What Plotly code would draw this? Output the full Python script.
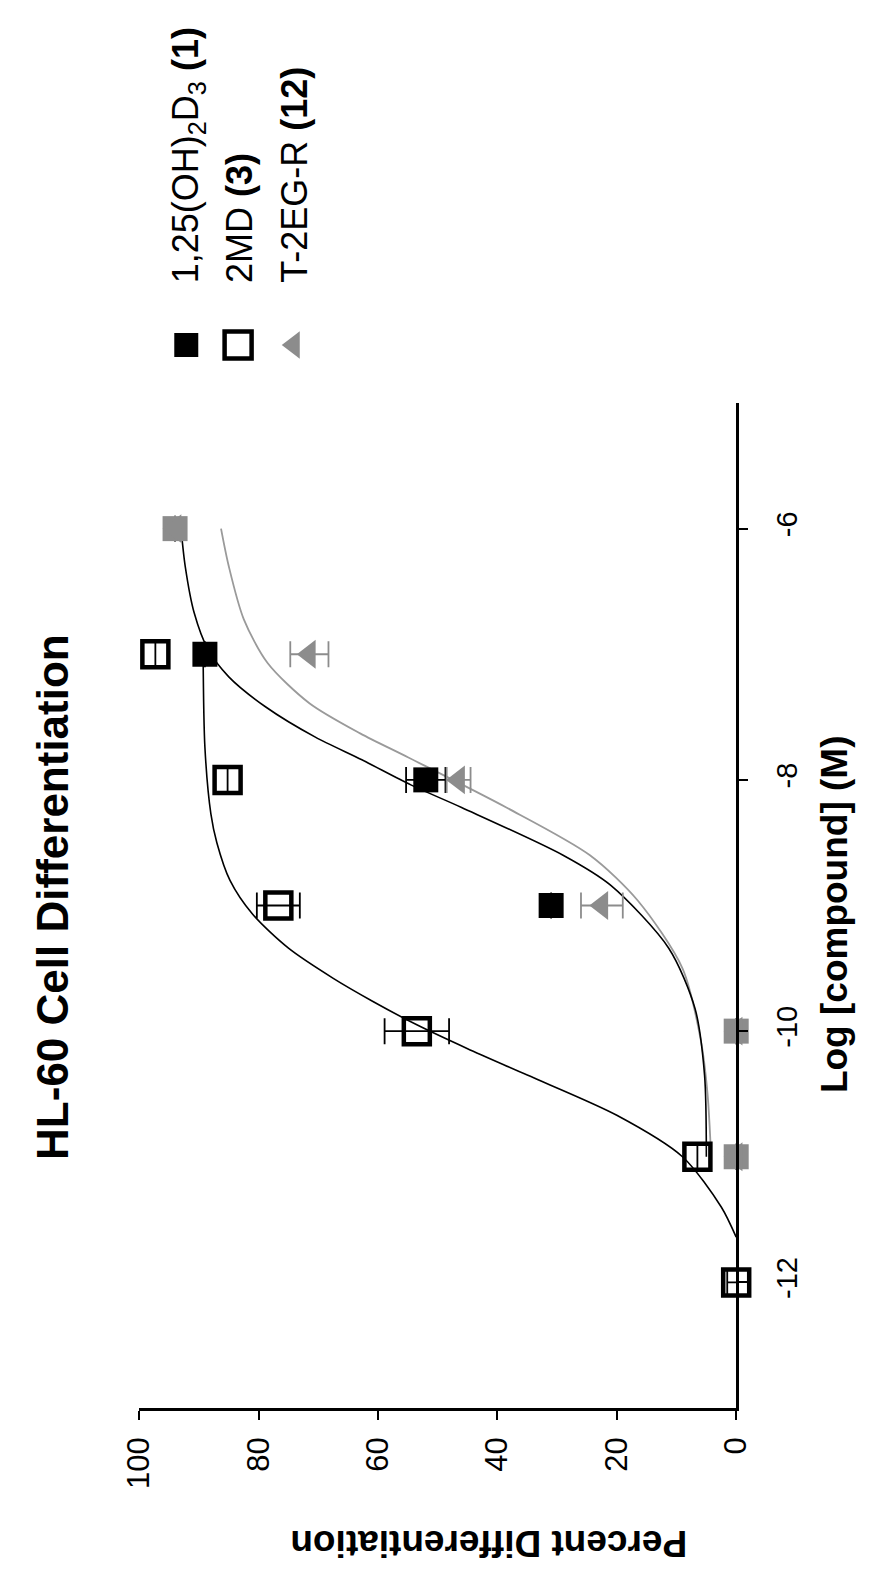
import plotly.graph_objects as go

W, H = 869, 1570

# ---------------- data ----------------
series_names = ["1,25(OH)<sub>2</sub>D<sub>3</sub> <b>(1)</b>", "2MD <b>(3)</b>", "T-2EG-R <b>(12)</b>"]

d3_log = [-11, -10, -9, -8, -7, -6]
d3_pct = [0, 0, 31, 52, 89, 94]
d3_err = [0, 0, 0, 3.3, 0, 0]

md_log = [-12, -11, -10, -9, -8, -7]
md_pct = [0, 6.5, 53.5, 76.7, 85.2, 97.3]
md_err = [1.5, 0, 5.4, 3.6, 0, 0]

teg_log = [-11, -10, -9, -8, -7, -6]
teg_pct = [0, 0, 22.5, 46.5, 71.5, 94]
teg_err = [0, 0, 3.5, 2.0, 3.2, 0]

# fitted curves
md_curve_log = [-11.64, -11.4, -11.0, -10.67, -10.35, -10.14, -9.95, -9.76, -9.58, -9.34, -9.07, -8.8, -8.5, -8.27, -7.74, -7.0]
md_curve_pct = [0, 2.5, 9, 20, 35, 45, 53.5, 61, 67.5, 75, 81, 84.8, 87, 88, 89, 89.3]

d3_curve_log = [-11.0, -10.35, -9.82, -9.34, -8.84, -8.6, -8.22, -8.04, -7.84, -7.66, -7.42, -7.18, -6.96, -6.67, -6.3, -6.0]
d3_curve_pct = [5.0, 5.3, 6.9, 11.3, 21, 29, 46, 54.5, 62.7, 70.5, 78.8, 85, 88.5, 90.8, 92.3, 93]

teg_curve_log = [-11.0, -10.5, -10.08, -9.5, -8.96, -8.6, -8.22, -7.82, -7.63, -7.39, -7.07, -6.72, -6.3, -6.0]
teg_curve_pct = [4.2, 4.8, 5.9, 9, 16.5, 24.5, 38.5, 55, 63, 71.5, 78.5, 82.5, 85, 86.3]

pct_ticks = [0, 20, 40, 60, 80, 100]
log_ticks = [-12, -10, -8, -6]
log_ticktext = ["-12", "-10", "-8", "-6"]

# ---------------- styles ----------------
BLACK = "#000000"
GRAY = "#8c8c8c"
FONT = "Liberation Sans, Arial, sans-serif"

def X(px):
    return px / W

def Y(py):
    return 1 - py / H

fig = go.Figure()

# curves (percent on horizontal axis, log conc on vertical axis)
fig.add_trace(go.Scatter(x=teg_curve_pct, y=teg_curve_log, mode="lines",
                         line=dict(color="#9a9a9a", width=1.8, shape="spline", smoothing=0.8),
                         showlegend=False, hoverinfo="skip"))
fig.add_trace(go.Scatter(x=d3_curve_pct, y=d3_curve_log, mode="lines",
                         line=dict(color=BLACK, width=1.6, shape="spline", smoothing=0.8),
                         showlegend=False, hoverinfo="skip"))
fig.add_trace(go.Scatter(x=md_curve_pct, y=md_curve_log, mode="lines",
                         line=dict(color=BLACK, width=1.6, shape="spline", smoothing=0.8),
                         showlegend=False, hoverinfo="skip"))

# points
d3_colors = [GRAY if (l in (-11, -10, -6)) else BLACK for l in d3_log]
fig.add_trace(go.Scatter(x=d3_pct, y=d3_log, mode="markers",
                         marker=dict(symbol="square", size=25, color=d3_colors, opacity=1, line=dict(width=0)),
                         error_x=dict(type="data", array=d3_err, color=BLACK, thickness=1.8, width=13),
                         showlegend=False, cliponaxis=False))
fig.add_trace(go.Scatter(x=teg_pct, y=teg_log, mode="markers",
                         marker=dict(symbol="triangle-left", size=25, color=GRAY, opacity=1, line=dict(width=0)),
                         error_x=dict(type="data", array=teg_err, color=GRAY, thickness=1.8, width=13),
                         showlegend=False, cliponaxis=False))
fig.add_trace(go.Scatter(x=md_pct, y=md_log, mode="markers",
                         marker=dict(symbol="square-open", size=26, color=BLACK, opacity=1, line=dict(width=4.5, color=BLACK)),
                         error_x=dict(type="data", array=md_err, color=BLACK, thickness=1.8, width=13),
                         showlegend=False, cliponaxis=False))

# legend keys on a hidden pixel-space axis pair
leg_x = [167, 221, 279]
leg_y = [337, 337, 337]
fig.add_trace(go.Scatter(x=leg_x, y=leg_y, mode="markers", xaxis="x2", yaxis="y2",
                         marker=dict(symbol=["square", "square-open", "triangle-left"],
                                     size=[24, 27, 24], color=[BLACK, BLACK, GRAY], opacity=1,
                                     line=dict(width=[0, 4.5, 0], color=[BLACK, BLACK, GRAY])),
                         showlegend=False, hoverinfo="skip"))

annotations = []
# legend texts
leg_text_x = [169, 223, 280]
for tx, name in zip(leg_text_x, series_names):
    annotations.append(dict(x=X(tx), y=Y(277), xref="paper", yref="paper", text=name,
                            textangle=-90, xanchor="center", yanchor="bottom", showarrow=False,
                            font=dict(family=FONT, size=36, color=BLACK)))
# chart title
annotations.append(dict(x=X(27), y=Y(889), xref="paper", yref="paper",
                        text="<b>HL-60 Cell Differentiation</b>", textangle=-90,
                        xanchor="center", yanchor="middle", showarrow=False,
                        font=dict(family=FONT, size=44, color=BLACK)))
# axis titles
annotations.append(dict(x=X(842), y=Y(906), xref="paper", yref="paper",
                        text="<b>Log [compound] (M)</b>", textangle=-90,
                        xanchor="center", yanchor="middle", showarrow=False,
                        font=dict(family=FONT, size=37, color=BLACK)))
annotations.append(dict(x=X(482), y=Y(1536), xref="paper", yref="paper",
                        text="<b>Percent Differentiation</b>", textangle=180,
                        xanchor="center", yanchor="middle", showarrow=False,
                        font=dict(family=FONT, size=37, color=BLACK)))

fig.update_layout(
    width=W, height=H,
    margin=dict(l=0, r=0, t=0, b=0),
    paper_bgcolor="white", plot_bgcolor="rgba(0,0,0,0)",
    showlegend=False,
    font=dict(family=FONT, color=BLACK),
    xaxis=dict(domain=[X(118), X(740)], range=[100, 0], tickvals=pct_ticks,
               showline=True, linecolor=BLACK, linewidth=2.5, showgrid=False, zeroline=False,
               ticks="outside", ticklen=9, tickwidth=2, tickcolor=BLACK, tickangle=-90,
               ticklabelstandoff=5,
               tickfont=dict(family=FONT, size=31, color=BLACK), anchor="y"),
    yaxis=dict(domain=[Y(1400), Y(395)], range=[-13, -5], tickvals=log_ticks, ticktext=log_ticktext,
               side="right", showline=True, linecolor=BLACK, linewidth=2.5, showgrid=False, zeroline=False,
               ticks="outside", ticklen=9, tickwidth=2, tickcolor=BLACK, tickangle=-90,
               ticklabelstandoff=14,
               tickfont=dict(family=FONT, size=29, color=BLACK), anchor="x"),
    xaxis2=dict(domain=[0, 1], range=[0, W], visible=False, anchor="y2"),
    yaxis2=dict(domain=[0, 1], range=[H, 0], visible=False, anchor="x2"),
    annotations=annotations,
)

fig.write_html("out.html")
